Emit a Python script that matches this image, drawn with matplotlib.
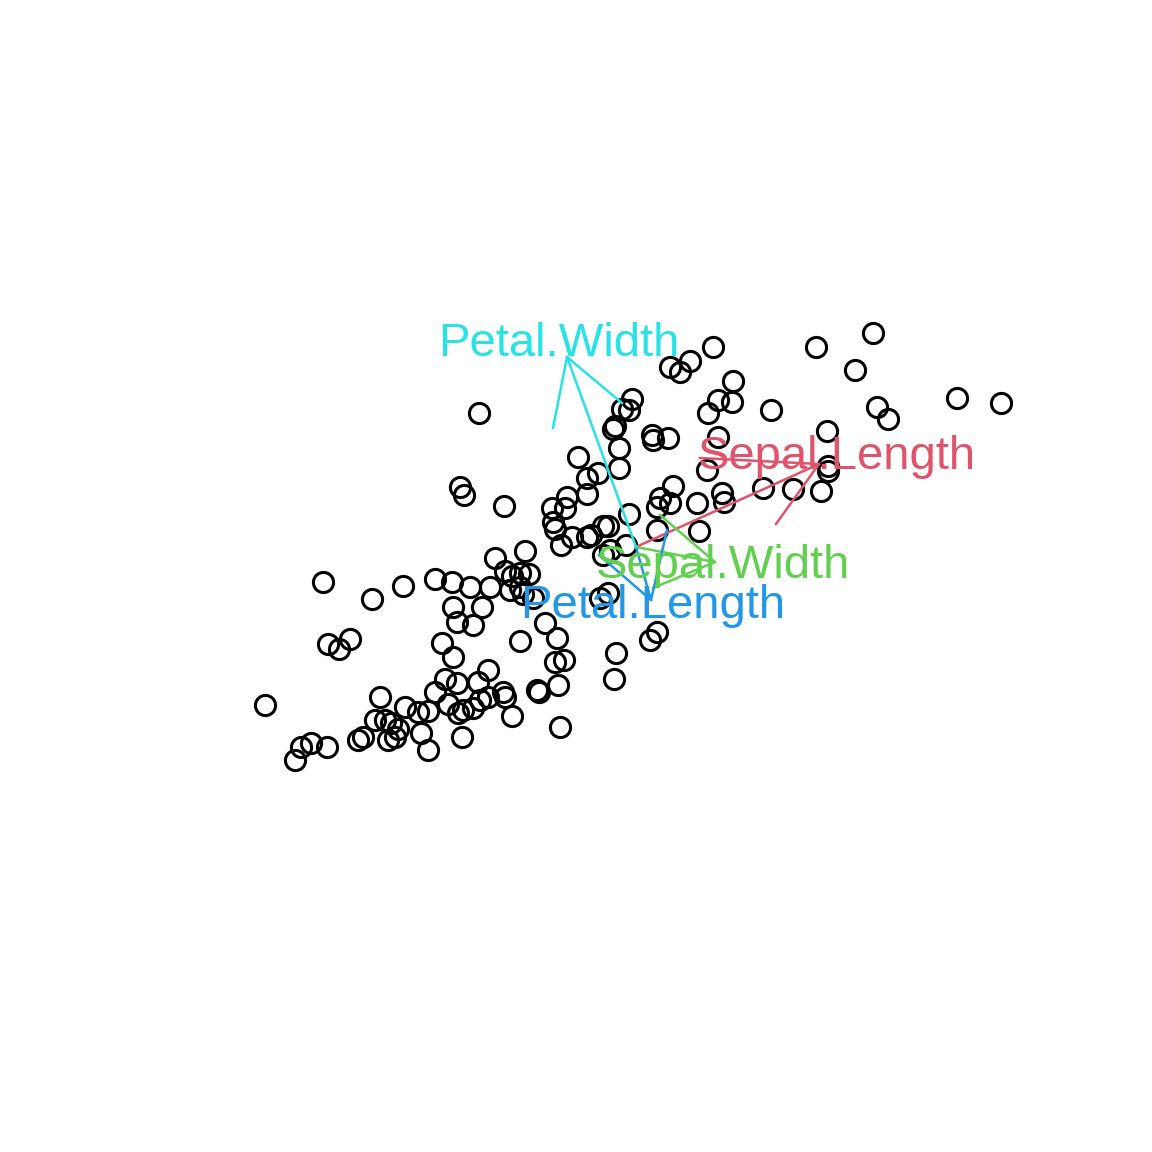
import matplotlib
matplotlib.use('Agg')
import matplotlib.pyplot as plt

# Point scores (first two components)
pc1 = [2.37, 1.80, 0.77, 0.54, 0.34, 0.44, 2.19, 0.97, 3.21, 3.65,
       0.82, 0.96, 2.41, 2.52, 0.72, 1.35, 1.91, 0.82, 0.16, 0.17,
       0.32, 0.71, 1.92, 1.92, 0.37, 0.24, 0.34, 0.21, 0.61, 0.86,
       0.88, 1.27, 1.57, 1.85, 0.21, 0.63, -0.04, -0.14, -0.07, -0.21,
       -0.23, -0.17, -0.17, -0.58, -0.38, -0.49, -0.49, -0.69, -0.84, -0.71,
       -0.83, -0.81, -0.75, -0.64, -0.49, -0.45, -0.33, -0.28, -0.07, -0.26,
       -0.10, -0.33, -1.57, -1.76, -1.72, -1.32, -1.11, -1.41, -1.31, -1.24,
       -1.16, -1.07, -1.26, -1.16, -1.13, -1.03, -2.01, -1.84, -1.66, -1.46,
       -2.33, -3.13, -2.64, -1.83, -1.54, -1.79, -1.63, -0.91, -0.79, -1.16,
       -1.94, -1.83, -3.08, -2.97, -2.86, -0.81, -0.72, -0.20, -0.22, 0.21,
       0.14, -1.48, -1.58, -1.79, -1.91, -2.01, -2.56, -3.71, -1.33, -1.31,
       -0.99, -0.97, -0.78, -1.56, -1.48, -1.63, -1.73, -1.88, -1.78, -1.24,
       -0.76, -1.74, -2.31, -2.18, -2.08, -2.61, -2.51, -2.45, -2.38, -2.73,
       -2.78, -2.48, -2.41, -2.15, -2.08, -3.41, -3.35, -3.25, -3.09, -0.36,
       -0.28]
pc2 = [2.14, 2.00, 2.00, 1.86, 1.80, 1.75, 1.77, 1.66, 1.49, 1.44,
       1.47, 1.45, 1.40, 1.28, 1.34, 1.37, 1.16, 1.10, 1.12, 1.07,
       1.09, 0.77, 0.81, 0.76, 0.61, 0.49, 0.44, 0.40, 0.44, 0.54,
       0.45, 0.59, 0.58, 0.56, 0.17, 0.16, 1.48, 1.38, 1.37, 1.21,
       1.18, 0.99, 0.79, 0.90, 0.74, 0.69, 0.53, 0.50, 0.39, 0.39,
       0.25, 0.18, 0.02, 0.10, 0.10, 0.12, 0.21, 0.21, 0.33, -0.03,
       0.02, -0.08, 1.34, 0.60, 0.52, 0.41, -0.04, -0.11, -0.24, -0.29,
       -0.26, -0.27, -0.43, -0.40, -0.47, -0.51, -0.32, -0.35, -0.40, -0.40,
       -0.39, -0.35, -0.52, -0.60, -0.60, -0.75, -0.78, -0.76, -0.91, -0.94,
       -0.96, -1.10, -0.97, -1.02, -0.92, -1.15, -1.13, -1.06, -1.32, -0.85,
       -0.93, -1.23, -1.35, -1.36, -1.32, -1.45, -1.50, -1.58, -1.45, -1.50,
       -1.43, -1.45, -1.38, -1.53, -1.50, -1.61, -1.63, -1.57, -1.66, -1.69,
       -1.80, -1.90, -1.60, -1.65, -1.64, -1.73, -1.73, -1.76, -1.82, -1.90,
       -1.93, -1.93, -1.90, -1.86, -2.03, -2.13, -2.00, -1.96, -2.00, -0.51,
       -0.46]

# Variable arrows
var_names = ['Sepal.Length', 'Sepal.Width', 'Petal.Length', 'Petal.Width']
tip_x = [1.83, 0.79, 0.15, -0.69]
tip_y = [0.83, -0.15, -0.53, 1.90]
head1_x = [0.64, 0.24, 0.31, -0.83]
head1_y = [0.89, 0.32, 0.17, 1.19]
head2_x = [1.40, 0.17, -0.37, -0.14]
head2_y = [0.23, -0.41, -0.08, 1.44]
label_x = [2.01, 0.87, 0.17, -0.77]
label_y = [0.78, -0.31, -0.71, 1.91]
colors = ['#DF536B', '#61D04F', '#2297E6', '#28E2E5']

fig = plt.figure(figsize=(11.52, 11.52), dpi=100)
ax = fig.add_axes([0, 0, 1, 1])
ax.set_xlim(-6.36, 5.16)
ax.set_ylim(-6.05, 5.47)
ax.axis('off')

ax.plot(pc1, pc2, 'o', markersize=14.5, markerfacecolor='none',
        markeredgecolor='black', markeredgewidth=2.2)

for i, name in enumerate(var_names):
    c = colors[i]
    ax.plot([0, tip_x[i]], [0, tip_y[i]], color=c, lw=1.8)
    ax.plot([head1_x[i], tip_x[i], head2_x[i]],
            [head1_y[i], tip_y[i], head2_y[i]], color=c, lw=1.8)
    ax.text(label_x[i], label_y[i], name, color=c, fontsize=34,
            family='Liberation Sans', ha='center', va='baseline')

fig.savefig('out.png', dpi=100)
